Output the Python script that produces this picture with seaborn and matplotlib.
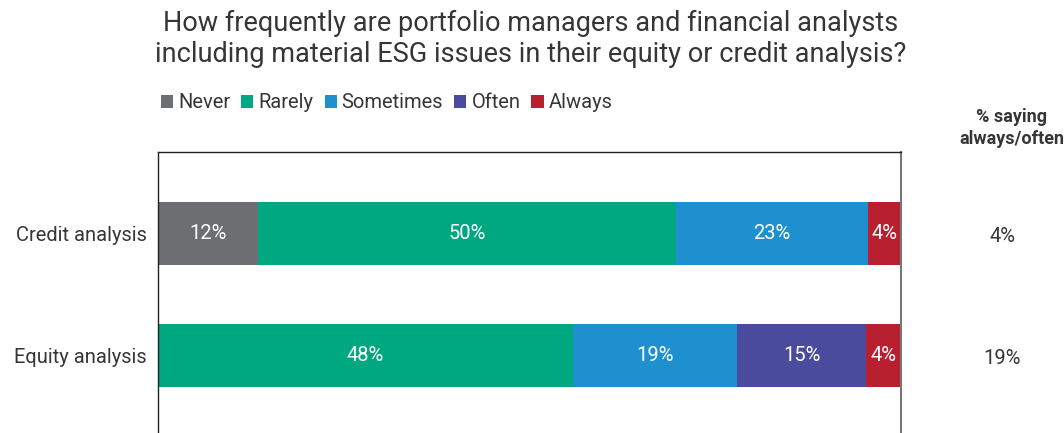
import numpy as np
import pandas as pd
import matplotlib
matplotlib.use("Agg")
import matplotlib.pyplot as plt
import seaborn as sns
from matplotlib.patches import Patch

sns.set_theme(style="white")
plt.rcParams["font.family"] = ["Roboto", "DejaVu Sans"]

# Survey responses (percent of respondents)
categories = ["Credit analysis", "Equity analysis"]
levels = ["Never", "Rarely", "Sometimes", "Often", "Always"]
never = [12, 0]
rarely = [50, 48]
sometimes = [23, 19]
often = [0, 15]
always = [4, 4]
colors = ["#6d6e71", "#00a882", "#1e90d0", "#4b4b9e", "#b8202f"]

title = ("How frequently are portfolio managers and financial analysts\n"
         "including material ESG issues in their equity or credit analysis?")
side_header = "% saying\nalways/often"
text_color = "#363636"

series = [never, rarely, sometimes, often, always]
raw = pd.DataFrame(dict(zip(levels, series)), index=categories)
# bars are scaled so each row fills the full width
share = raw.div(raw.sum(axis=1), axis=0) * 100
cum = share.cumsum(axis=1)

fig = plt.figure(figsize=(10.64, 4.33), dpi=100)
ax = fig.add_axes([158 / 1064, -4 / 433, (901 - 158) / 1064, (433 + 4 - 152) / 433])

# draw cumulative totals from the last segment to the first so they stack
for lvl, col in reversed(list(zip(levels, colors))):
    df = pd.DataFrame({"category": categories, "value": cum[lvl].values})
    sns.barplot(data=df, y="category", x="value", color=col, width=0.516,
                saturation=1, ax=ax, linewidth=0)

# value labels in the middle of each segment
for i, cat in enumerate(categories):
    start = 0.0
    for lvl in levels:
        w = share.loc[cat, lvl]
        v = raw.loc[cat, lvl]
        if v > 0:
            ax.text(start + w / 2, i, f"{v}%", ha="center", va="center",
                    color="white", fontsize=14.5)
        start += w

ax.set_xlim(0, 100)
ax.set_ylim(1.668, -0.668)
ax.set_xlabel("")
ax.set_ylabel("")
ax.set_xticks([])
ax.tick_params(axis="y", length=0, pad=8, labelsize=14.5, labelcolor=text_color)
for side in ["left", "top"]:
    ax.spines[side].set_visible(True)
    ax.spines[side].set_color("#222222")
    ax.spines[side].set_linewidth(1.0)
ax.spines["right"].set_visible(True)
ax.spines["right"].set_color("#777777")
ax.spines["right"].set_linewidth(1.5)
ax.spines["bottom"].set_visible(False)

# share answering often or always
for i, cat in enumerate(categories):
    val = raw.loc[cat, "Often"] + raw.loc[cat, "Always"]
    fig.text(1002 / 1064, 1 - (236 + 122 * i) / 433, f"{val}%", ha="center",
             va="center", fontsize=14.5, color=text_color)
fig.text(1012 / 1064, 1 - 128 / 433, side_header, ha="center", va="center",
         fontsize=13, fontweight="bold", color=text_color, linespacing=1.25)

fig.text(531 / 1064, 1 - 39 / 433, title, ha="center", va="center",
         fontsize=19.5, color=text_color, linespacing=1.2)

handles = [Patch(facecolor=c, edgecolor="none") for c in colors]
fig.legend(handles, levels, loc="center left", bbox_to_anchor=(151 / 1064, 1 - 103 / 433),
           ncol=5, frameon=False, fontsize=14.5, handlelength=0.6, handleheight=0.6,
           handletextpad=0.25, columnspacing=0.55, labelcolor=text_color, borderpad=0)

fig.savefig("out.png", dpi=100, facecolor="white")
